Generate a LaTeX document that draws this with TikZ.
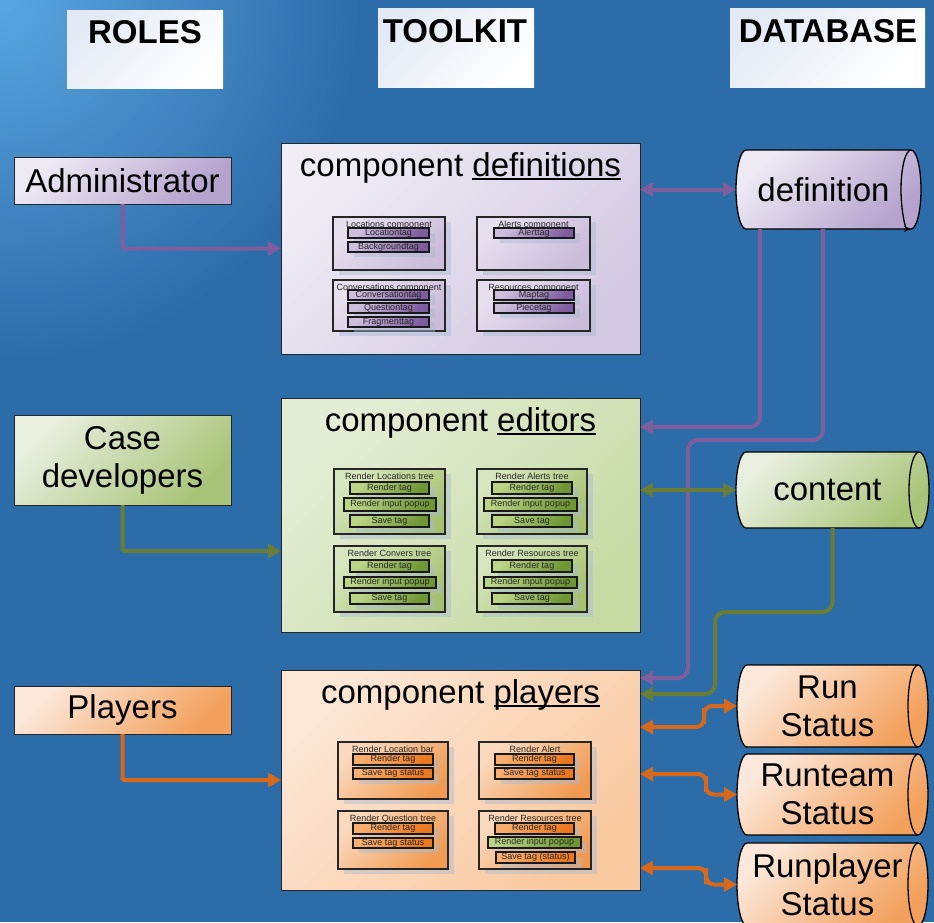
\documentclass[tikz,border=0pt]{standalone}
\usepackage{fontspec}
\setmainfont{Liberation Sans}
\usetikzlibrary{arrows.meta,shadows}

\definecolor{bg}{HTML}{2C6CA9}
\definecolor{bglight}{HTML}{5AA6E0}
\definecolor{pconnc}{HTML}{7F5E9E}
\definecolor{gconnc}{HTML}{6A7D36}
\definecolor{oconnc}{HTML}{D8681C}
\definecolor{shadowc}{HTML}{A8BAD3}
% purple
\definecolor{pRoleA}{HTML}{EEEAF4}\definecolor{pRoleB}{HTML}{B5A2CD}
\definecolor{pBoxA}{HTML}{EFECF5}\definecolor{pBoxB}{HTML}{D3C8E1}
\definecolor{pInA}{HTML}{E6E0EE}\definecolor{pInB}{HTML}{CBBCDB}
\definecolor{pTagA}{HTML}{CDBEDE}\definecolor{pTagB}{HTML}{7E5C9F}
% green
\definecolor{gRoleA}{HTML}{E9EFDF}\definecolor{gRoleB}{HTML}{A8C478}
\definecolor{gBoxA}{HTML}{E4EDD5}\definecolor{gBoxB}{HTML}{C7DAA4}
\definecolor{gInA}{HTML}{D8E6BF}\definecolor{gInB}{HTML}{A6C26F}
\definecolor{gTagA}{HTML}{BCD486}\definecolor{gTagB}{HTML}{6E9633}
% orange
\definecolor{oRoleA}{HTML}{FCE8DA}\definecolor{oRoleB}{HTML}{F3A05C}
\definecolor{oBoxA}{HTML}{FCE6D4}\definecolor{oBoxB}{HTML}{F9C9A0}
\definecolor{oInA}{HTML}{FAD8BC}\definecolor{oInB}{HTML}{F19B52}
\definecolor{oTagA}{HTML}{F8AE6E}\definecolor{oTagB}{HTML}{EC771C}
\definecolor{hdrA}{HTML}{E3EAF5}

\newcommand\mytul[1]{\setbox0\hbox{#1}\rlap{\rule[-0.12em]{\wd0}{0.06em}}\box0}
\newcommand\mybox[7]{\node[#2, anchor=north west, minimum width={(#5)-(#3)}, minimum height={(#6)-(#4)}, inner sep=0pt, outer sep=0pt] (#1) at (#3,-#4) {#7};}
\newcommand\ibox[7]{\mybox{#1}{#2}{#3}{#4}{#5}{#6}{}\node[smalltxt, anchor=base] (#1-t) at ([yshift=-10pt]#1.north) {#7};}
\newcommand\cyl[8]{%
  \node[anchor=north west, minimum width={(#5)-(#3)}, minimum height={(#6)-(#4)}, inner sep=0pt, outer sep=0pt] (#1) at (#3,-#4) {};
  \path[#2] (#3+10,-#4) -- (#5-10,-#4) arc[start angle=90, end angle=-90, x radius=10, y radius={((#6)-(#4))/2}] -- (#3+10,-#6) arc[start angle=270, end angle=90, x radius=10, y radius={((#6)-(#4))/2}] -- cycle;
  \draw[cylline,#8] (#5-10,-#4) arc[start angle=90, end angle=270, x radius=10, y radius={((#6)-(#4))/2}];
  \node[bigtxt, align=center] (#1-t) at ([xshift=-5pt]#1.center) {#7};}

\tikzset{
  grad/.style 2 args={top color=#1, bottom color=#2, shading angle=45},
  bigtxt/.style={font=\fontsize{33}{38}\selectfont, text=black},
  smalltxt/.style={font=\fontsize{9}{10}\selectfont, text=black!85},
  hdrtxt/.style={font=\bfseries\fontsize{33}{38}\selectfont, text=black},
  hdrbox/.style={grad={hdrA}{white}},
  rolebox/.style={draw=black!85, line width=1pt, bigtxt, align=center},
  toolbox/.style={draw=black!85, line width=1pt},
  inbox/.style={draw=black!85, line width=1.1pt, drop shadow={shadow xshift=6pt, shadow yshift=-5pt, fill=shadowc, opacity=0.45}},
  tagbox/.style={draw=black!90, line width=1.2pt, smalltxt, drop shadow={shadow xshift=6pt, shadow yshift=-5pt, fill=shadowc, opacity=0.45}},
  cylline/.style={draw=black, line width=1.3pt},
  cylbody/.style={cylline},
  conn/.style={line width=4pt, rounded corners=10pt},
  tipend/.style={-{Triangle[length=13pt,width=14pt]}},
  tipboth/.style={{Triangle[length=13pt,width=14pt]}-{Triangle[length=13pt,width=14pt]}},
  pconn/.style={conn, draw=pconnc},
  gconn/.style={conn, draw=gconnc},
  oconn/.style={conn, draw=oconnc},
  sharp/.style={rounded corners=1.5pt},
}

\begin{document}
\begin{tikzpicture}[x=1pt,y=1pt]
\useasboundingbox (0,0) rectangle (934,-922);
\clip (0,0) rectangle (934,-922);
\fill[bg] (0,0) rectangle (934,-922);
\shade[inner color=bglight, outer color=bg] (0,0) circle (360);

% headers
\mybox{hroles}{hdrbox}{67}{10}{223}{88}{}
\node[hdrtxt, anchor=base] (hroles-t) at (145,-43) {ROLES};
\mybox{htool}{hdrbox}{378}{8}{534}{87}{}
\node[hdrtxt, anchor=base] (htool-t) at (455,-42) {TOOLKIT};
\mybox{hdb}{hdrbox}{730}{8}{925}{87}{}
\node[hdrtxt, anchor=base] (hdb-t) at (828,-42) {DATABASE};

% roles
\mybox{admin}{rolebox, grad={pRoleA}{pRoleB}}{14}{157}{231}{204}{Administrator}
\mybox{cdev}{rolebox, grad={gRoleA}{gRoleB}}{14}{415}{231}{505}{Case\\developers}
\mybox{prole}{rolebox, grad={oRoleA}{oRoleB}}{14}{686}{231}{734}{Players}

% toolkit boxes
\mybox{defs}{toolbox, grad={pBoxA}{pBoxB}}{281}{143}{640}{354}{}
\node[bigtxt, anchor=base] (defs-t) at ([yshift=-33pt]defs.north) {component \mytul{definitions}};
\mybox{eds}{toolbox, grad={gBoxA}{gBoxB}}{281}{398}{640}{632}{}
\node[bigtxt, anchor=base] (eds-t) at ([yshift=-33pt]eds.north) {component \mytul{editors}};
\mybox{plays}{toolbox, grad={oBoxA}{oBoxB}}{281}{670}{640}{890}{}
\node[bigtxt, anchor=base] (plays-t) at ([yshift=-33pt]plays.north) {component \mytul{players}};

% definitions inner
\tikzset{pin/.style={inbox, grad={pInA}{pInB}}, ptag/.style={tagbox, grad={pTagA}{pTagB}}}
\ibox{loc}{pin}{333}{217}{445}{270}{Locations component}
\mybox{loc1}{ptag}{348}{228}{429}{238}{Locationtag}
\mybox{loc2}{ptag}{348}{242}{429}{252}{Backgroundtag}
\ibox{alr}{pin}{477}{217}{590}{270}{Alerts component}
\mybox{alr1}{ptag}{494}{228}{574}{238}{Alerttag}
\ibox{conv}{pin}{333}{280}{445}{331}{Conversations component}
\mybox{conv1}{ptag}{348}{290}{429}{300}{Conversationtag}
\mybox{conv2}{ptag}{348}{303}{429}{313}{Questiontag}
\mybox{conv3}{ptag}{348}{317}{429}{327}{Fragmenttag}
\ibox{res}{pin}{477}{280}{590}{331}{Resources component}
\mybox{res1}{ptag}{494}{290}{574}{300}{Maptag}
\mybox{res2}{ptag}{494}{303}{574}{313}{Piecetag}

% editors inner
\tikzset{gin/.style={inbox, grad={gInA}{gInB}}, gtag/.style={tagbox, grad={gTagA}{gTagB}}}
\ibox{ea}{gin}{334}{469}{445}{534}{Render Locations tree}
\mybox{ea1}{gtag}{350}{482}{429}{494}{Render tag}
\mybox{ea2}{gtag}{344}{498}{436}{511}{Render input popup}
\mybox{ea3}{gtag}{350}{515}{429}{527}{Save tag}
\ibox{eb}{gin}{477}{469}{587}{534}{Render Alerts tree}
\mybox{eb1}{gtag}{492}{482}{572}{494}{Render tag}
\mybox{eb2}{gtag}{484}{498}{577}{511}{Render input popup}
\mybox{eb3}{gtag}{492}{515}{572}{527}{Save tag}
\ibox{ec}{gin}{334}{546}{445}{612}{Render Convers tree}
\mybox{ec1}{gtag}{350}{560}{429}{572}{Render tag}
\mybox{ec2}{gtag}{344}{577}{436}{588}{Render input popup}
\mybox{ec3}{gtag}{350}{593}{429}{604}{Save tag}
\ibox{ed}{gin}{477}{546}{587}{612}{Render Resources tree}
\mybox{ed1}{gtag}{492}{560}{572}{572}{Render tag}
\mybox{ed2}{gtag}{484}{577}{577}{588}{Render input popup}
\mybox{ed3}{gtag}{492}{593}{572}{604}{Save tag}

% players inner
\tikzset{oin/.style={inbox, grad={oInA}{oInB}}, otag/.style={tagbox, grad={oTagA}{oTagB}}}
\ibox{pa}{oin}{338}{742}{448}{799}{Render Location bar}
\mybox{pa1}{otag}{353}{754}{433}{765}{Render tag}
\mybox{pa2}{otag}{353}{768}{433}{779}{Save tag status}
\ibox{pb}{oin}{479}{742}{591}{799}{Render Alert}
\mybox{pb1}{otag}{495}{754}{574}{765}{Render tag}
\mybox{pb2}{otag}{495}{768}{574}{779}{Save tag status}
\ibox{pc}{oin}{338}{811}{448}{869}{Render Question tree}
\mybox{pc1}{otag}{353}{823}{433}{834}{Render tag}
\mybox{pc2}{otag}{353}{838}{433}{848}{Save tag status}
\ibox{pd}{oin}{479}{811}{591}{869}{Render Resources tree}
\mybox{pd1}{otag}{495}{823}{574}{834}{Render tag}
\mybox{pd2}{gtag}{488}{837}{581}{848}{Render input popup}
\mybox{pd3}{otag}{496}{852}{575}{863}{Save tag (status)}

% database cylinders
\cyl{defdb}{cylbody, grad={pRoleA}{pRoleB}}{736}{150}{921}{229}{definition}{-{Stealth[length=7pt,width=6pt]}}
\cyl{cont}{cylbody, grad={gRoleA}{gRoleB}}{736}{452}{929}{528}{content}{}
\cyl{runst}{cylbody, grad={oRoleA}{oRoleB}}{737}{665}{928}{747}{Run\\Status}{}
\cyl{runteam}{cylbody, grad={oRoleA}{oRoleB}}{737}{754}{928}{835}{Runteam\\Status}{}
\cyl{runpl}{cylbody, grad={oRoleA}{oRoleB}}{737}{843}{928}{926}{Runplayer\\Status}{}

% waypoints
\coordinate (pv1) at (688,-440);
\coordinate (gv1) at (715,-612);
\coordinate (sv1) at (704,-716);
\coordinate (sv2) at (706,-784);
\coordinate (sv3) at (706,-876);

% purple connectors
\draw[pconn, sharp, tipend] (admin.south) |- (defs.west);
\draw[pconn, tipboth] (defs.east |- defdb.west) -- (defdb.west);
\draw[pconn, tipend] ([xshift=24pt]defdb.south west) |- ([yshift=-29pt]eds.north east);
\draw[pconn, tipend] ([xshift=87pt]defdb.south west) |- (pv1) |- ([yshift=-8pt]plays.north east);

% green connectors
\draw[gconn, sharp, tipend] (cdev.south) |- ([yshift=-153pt]eds.north west);
\draw[gconn, tipboth] (eds.east |- cont.west) -- (cont.west);
\draw[gconn, tipend] (cont.south) |- (gv1) |- ([yshift=-24pt]plays.north east);

% orange connectors
\draw[oconn, sharp, tipend] (prole.south) |- (plays.west);
\draw[oconn, tipboth, rounded corners=8pt] ([yshift=-57pt]plays.north east) -| (sv1) |- (runst.west);
\draw[oconn, tipboth, rounded corners=8pt] ([yshift=-104pt]plays.north east) -| (sv2) |- (runteam.west);
\draw[oconn, tipboth, rounded corners=8pt] ([yshift=-198pt]plays.north east) -| (sv3) |- (runpl.west);
\end{tikzpicture}
\end{document}
